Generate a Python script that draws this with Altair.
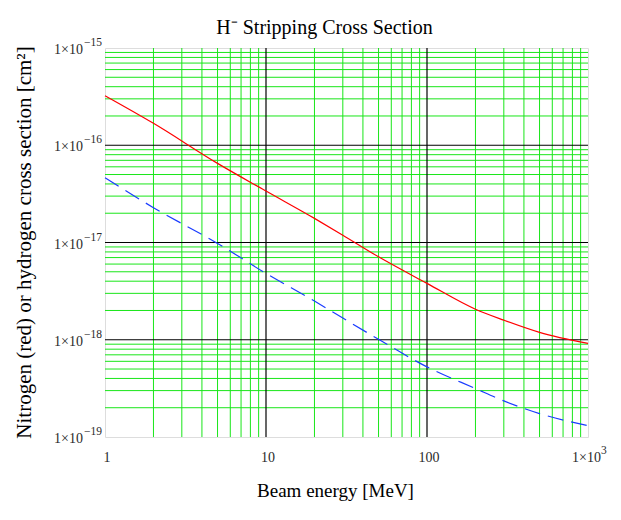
import math
import altair as alt
import pandas as pd

# Beam energy [MeV] and cross sections [cm^2]
energy_n = [1, 2, 5, 10, 20, 30, 50, 100, 200, 300, 500, 1000]
nitrogen = [3.23e-16, 1.68e-16, 6.51e-17, 3.38e-17, 1.77e-17, 1.19e-17,
            7.13e-18, 3.80e-18, 2.06e-18, 1.59e-18, 1.19e-18, 9.16e-19]
energy_h = [1, 2, 5, 10, 20, 30, 50, 100, 200, 300, 500, 1000]
hydrogen = [4.63e-17, 2.28e-17, 9.79e-18, 4.81e-18, 2.50e-18, 1.67e-18,
            1.01e-18, 5.26e-19, 3.15e-19, 2.35e-19, 1.74e-19, 1.31e-19]

# tick labels (mantissa part and exponent part)
x_ticks_plain = [1, 10, 100]
x_labels_plain = ["1", "10", "100"]
x_ticks_sci = [1000]
x_labels_sci = ["1×10"]
x_labels_exp = ["3"]
y_ticks = [1e-19, 1e-18, 1e-17, 1e-16, 1e-15]
y_labels_base = ["1×10", "1×10", "1×10", "1×10", "1×10"]
y_labels_exp = ["−19", "−18", "−17", "−16", "−15"]

# grid positions
mantissas = [2, 3, 4, 5, 6, 7, 8, 9]
x_decades = [1, 10, 100]
y_decades = [1e-19, 1e-18, 1e-17, 1e-16]
x_major = [10, 100]
y_major = [1e-18, 1e-17, 1e-16]
x_minor = [m * d for d in x_decades for m in mantissas]
y_minor = [m * d for d in y_decades for m in mantissas]

FONT = "Liberation Serif"
GREEN = "#19e619"
LABEL = "#2a2a2a"
H = 389

xscale = alt.Scale(type="log", domain=[1, 1000], nice=False)
yscale = alt.Scale(type="log", domain=[1e-19, 1e-15], nice=False)

xaxis = alt.Axis(values=[1, 10, 100, 1000], grid=False, ticks=False, domain=False,
                 labels=False,
                 title="Beam energy [MeV]", titleFont=FONT,
                 titleFontSize=19, titleFontWeight="normal",
                 titleColor="black", titleX=230, titleY=53,
                 titleBaseline="middle", titleAlign="center")
yaxis = alt.Axis(values=y_ticks, grid=False, ticks=False, domain=False,
                 labels=False,
                 title="Nitrogen (red) or hydrogen cross section [cm²]",
                 titleFont=FONT, titleFontSize=21,
                 titleFontWeight="normal", titleColor="black",
                 titleX=-81, titleY=194, titleAngle=270,
                 titleBaseline="middle", titleAlign="center")

X = alt.X("x:Q", scale=xscale, axis=xaxis)
Y = alt.Y("y:Q", scale=yscale, axis=yaxis)

df_n = pd.DataFrame({"x": energy_n, "y": nitrogen})
df_h = pd.DataFrame({"x": energy_h, "y": hydrogen})

xminor = alt.Chart(pd.DataFrame({"x": x_minor})).mark_rule(
    color=GREEN, strokeWidth=1).encode(x=X)
yminor = alt.Chart(pd.DataFrame({"y": y_minor})).mark_rule(
    color=GREEN, strokeWidth=1).encode(y=Y)
xmaj = alt.Chart(pd.DataFrame({"x": x_major})).mark_rule(
    color="black", strokeWidth=1.2).encode(x=X)
ymaj = alt.Chart(pd.DataFrame({"y": y_major})).mark_rule(
    color="black", strokeWidth=1.2).encode(y=Y)

red = alt.Chart(df_n).mark_line(color="#ff0000", strokeWidth=1.2,
                                interpolate="monotone").encode(x=X, y=Y)
blue = alt.Chart(df_h).mark_line(color="#1a3cff", strokeWidth=1.2,
                                 strokeDash=[16, 8],
                                 interpolate="monotone").encode(x=X, y=Y)

# y tick labels: "1×10" with raised exponent
ylab_df = pd.DataFrame({"y": y_ticks, "base": y_labels_base, "exp": y_labels_exp})
ylab_base = alt.Chart(ylab_df).mark_text(
    font=FONT, fontSize=14, color=LABEL, align="right", baseline="middle",
    dy=2).encode(x=alt.value(-22), y=Y, text="base:N")
ylab_exp = alt.Chart(ylab_df).mark_text(
    font=FONT, fontSize=11.5, color=LABEL, align="left", baseline="middle",
    dy=-5).encode(x=alt.value(-21), y=Y, text="exp:N")

# x tick labels
xlab_plain = alt.Chart(pd.DataFrame({"x": x_ticks_plain, "t": x_labels_plain})).mark_text(
    font=FONT, fontSize=14, color=LABEL, align="center", baseline="middle",
    dx=2).encode(x=X, y=alt.value(H + 21), text="t:N")
xsci_df = pd.DataFrame({"x": x_ticks_sci, "t": x_labels_sci, "e": x_labels_exp})
xlab_sci = alt.Chart(xsci_df).mark_text(
    font=FONT, fontSize=14, color=LABEL, align="right", baseline="middle",
    dx=13).encode(x=X, y=alt.value(H + 21), text="t:N")
xlab_exp = alt.Chart(xsci_df).mark_text(
    font=FONT, fontSize=11.5, color=LABEL, align="left", baseline="middle",
    dx=13).encode(x=X, y=alt.value(H + 14), text="e:N")

chart = alt.layer(xminor, yminor, xmaj, ymaj, red, blue,
                  ylab_base, ylab_exp, xlab_plain, xlab_sci, xlab_exp).properties(
    width=483, height=H,
    autosize=alt.AutoSizeParams(type="none"),
    padding={"left": 97, "top": 40, "right": 25, "bottom": 75},
    title=alt.TitleParams(text="H⁻ Stripping Cross Section", font=FONT,
                          fontSize=20, fontWeight="normal", color="black",
                          anchor="middle", dx=-22, dy=32, offset=15,
                          frame="group", baseline="alphabetic"),
).configure_view(stroke="#111", strokeWidth=1.5).configure(background="white")

chart.save("out.html", embed_options={"renderer": "svg", "actions": False})
